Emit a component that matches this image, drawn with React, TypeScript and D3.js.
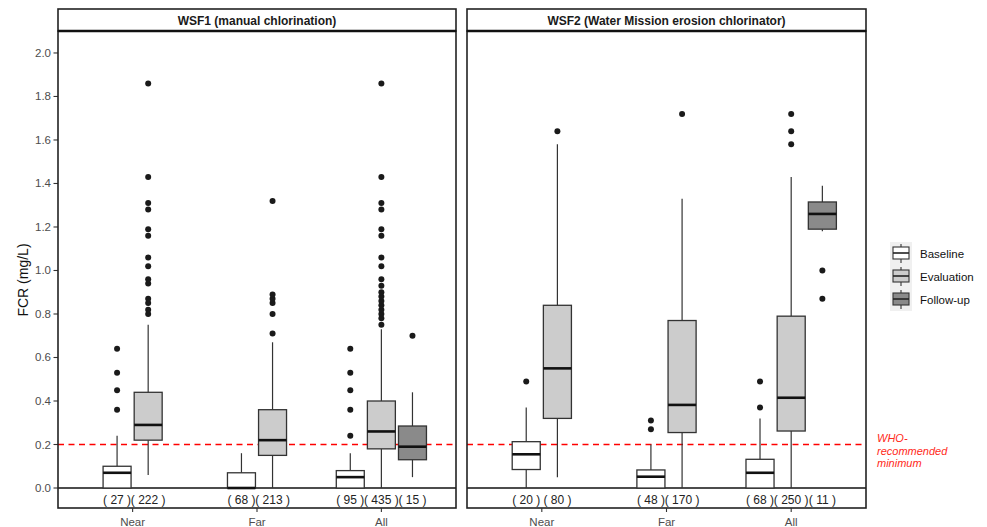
import React from "react";
import * as d3 from "d3";

// ---------- data ----------
const facets = ["WSF1 (manual chlorination)", "WSF2 (Water Mission erosion chlorinator)"];
const locations = ["Near", "Far", "All"];
const phases = ["Baseline", "Evaluation", "Follow-up"];
const phaseFill = ["#ffffff", "#cccccc", "#8a8a8a"];
const yTicks = [0, 0.2, 0.4, 0.6, 0.8, 1.0, 1.2, 1.4, 1.6, 1.8, 2.0];
const whoThreshold = 0.2;
const whoLabel = ["WHO-", "recommended", "minimum"];

const boxFacet = [0, 0, 0, 0, 0, 0, 0, 1, 1, 1, 1, 1, 1, 1];
const boxLocation = ["Near", "Near", "Far", "Far", "All", "All", "All", "Near", "Near", "Far", "Far", "All", "All", "All"];
const boxPhase = ["Baseline", "Evaluation", "Baseline", "Evaluation", "Baseline", "Evaluation", "Follow-up",
  "Baseline", "Evaluation", "Baseline", "Evaluation", "Baseline", "Evaluation", "Follow-up"];
const boxN = [27, 222, 68, 213, 95, 435, 15, 20, 80, 48, 170, 68, 250, 11];
const boxLow = [0, 0.06, 0, 0, 0, 0, 0.05, 0, 0.05, 0, 0, 0, 0, 1.18];
const boxQ1 = [0, 0.22, 0, 0.15, 0, 0.18, 0.13, 0.085, 0.32, 0, 0.255, 0, 0.262, 1.19];
const boxMedian = [0.07, 0.29, 0, 0.22, 0.05, 0.26, 0.19, 0.155, 0.55, 0.052, 0.382, 0.07, 0.415, 1.26];
const boxQ3 = [0.10, 0.44, 0.07, 0.36, 0.08, 0.40, 0.285, 0.213, 0.84, 0.083, 0.77, 0.132, 0.79, 1.315];
const boxHigh = [0.24, 0.75, 0.16, 0.67, 0.16, 0.73, 0.44, 0.37, 1.58, 0.20, 1.33, 0.32, 1.43, 1.39];
const boxOutliers = [
  [0.36, 0.45, 0.53, 0.64],
  [0.80, 0.82, 0.85, 0.87, 0.94, 0.96, 1.02, 1.06, 1.16, 1.19, 1.28, 1.31, 1.43, 1.86],
  [],
  [0.71, 0.80, 0.85, 0.87, 0.89, 1.32],
  [0.24, 0.36, 0.45, 0.53, 0.64],
  [0.75, 0.78, 0.80, 0.82, 0.84, 0.86, 0.88, 0.90, 0.93, 0.96, 1.02, 1.06, 1.16, 1.19, 1.28, 1.31, 1.43, 1.86],
  [0.70],
  [0.49],
  [1.64],
  [0.27, 0.31],
  [1.72],
  [0.37, 0.49],
  [1.58, 1.64, 1.72],
  [0.87, 1.0],
];

// ---------- layout ----------
const W = 987;
const H = 527;
const panelX: [number, number][] = [[58, 456], [467, 866]];
const stripTop = 9;
const panelTop = 31;
const panelBottom = 508;
const FONT = "'Liberation Sans', Arial, Helvetica, sans-serif";

const y = d3.scaleLinear().domain([-0.0919, 2.101]).range([panelBottom, panelTop]);

export default function App() {
  const panels = facets.map((name, fi) => {
    const [x0, x1] = panelX[fi];
    const x = d3.scaleLinear().domain([0.4, locations.length + 0.6]).range([x0, x1]);
    const idx = boxFacet.map((f, i) => (f === fi ? i : -1)).filter((i) => i >= 0);
    const slot = 0.25;
    const half = slot * 0.45;
    const boxes = idx.map((i) => {
      const li = locations.indexOf(boxLocation[i]);
      const group = idx.filter((j) => boxLocation[j] === boxLocation[i]);
      const k = group.length;
      const j = group.indexOf(i);
      const c = li + 1 + (j - (k - 1) / 2) * slot;
      return { i, cx: x(c), left: x(c - half), right: x(c + half), pi: phases.indexOf(boxPhase[i]) };
    });
    return (
      <g key={fi}>
        <rect x={x0} y={panelTop} width={x1 - x0} height={panelBottom - panelTop} fill="#fff" />
        <line x1={x0} x2={x1} y1={y(0)} y2={y(0)} stroke="#111" strokeWidth={1.3} />
        <line x1={x0} x2={x1} y1={y(whoThreshold)} y2={y(whoThreshold)} stroke="#ff0000" strokeWidth={1.3} strokeDasharray="6,4.5" />
        {boxes.map((b) => {
          const i = b.i;
          return (
            <g key={i}>
              {boxHigh[i] > boxQ3[i] && (
                <line x1={b.cx} x2={b.cx} y1={y(boxQ3[i])} y2={y(boxHigh[i])} stroke="#333" strokeWidth={1.2} />
              )}
              {boxLow[i] < boxQ1[i] && (
                <line x1={b.cx} x2={b.cx} y1={y(boxQ1[i])} y2={y(boxLow[i])} stroke="#333" strokeWidth={1.2} />
              )}
              <rect x={b.left} width={b.right - b.left} y={y(boxQ3[i])} height={y(boxQ1[i]) - y(boxQ3[i])}
                fill={phaseFill[b.pi]} stroke="#333" strokeWidth={1.3} />
              <line x1={b.left} x2={b.right} y1={y(boxMedian[i])} y2={y(boxMedian[i])} stroke="#111" strokeWidth={2.6} />
              {boxOutliers[i].map((v, oi) => (
                <circle key={oi} cx={b.cx} cy={y(v)} r={3} fill="#1a1a1a" />
              ))}
              <text x={b.cx} y={504} textAnchor="middle" fontSize={12} fill="#222" fontFamily={FONT}>
                {`( ${boxN[i]} )`}
              </text>
            </g>
          );
        })}
        <rect x={x0} y={panelTop} width={x1 - x0} height={panelBottom - panelTop} fill="none" stroke="#222" strokeWidth={1.6} />
        <rect x={x0} y={stripTop} width={x1 - x0} height={panelTop - stripTop} fill="#fff" stroke="#222" strokeWidth={1.6} />
        <line x1={x0} x2={x1} y1={panelTop} y2={panelTop} stroke="#111" strokeWidth={2.4} />
        <text x={(x0 + x1) / 2} y={24.5} textAnchor="middle" fontSize={12} fontWeight="bold" fill="#1a1a1a" fontFamily={FONT}>
          {name}
        </text>
        {locations.map((loc, li) => (
          <g key={loc}>
            <line x1={x(li + 1)} x2={x(li + 1)} y1={panelBottom} y2={panelBottom + 4} stroke="#333" strokeWidth={1.1} />
            <text x={x(li + 1)} y={525.5} textAnchor="middle" fontSize={11.5} fill="#4d4d4d" fontFamily={FONT}>
              {loc}
            </text>
          </g>
        ))}
      </g>
    );
  });

  return (
    <svg width={W} height={H} style={{ position: "absolute", left: 0, top: 0, background: "#fff" }}>
      <rect width={W} height={H} fill="#fff" />
      {yTicks.map((t) => (
        <g key={t}>
          <line x1={53.5} x2={58} y1={y(t)} y2={y(t)} stroke="#333" strokeWidth={1.1} />
          <text x={51} y={y(t) + 4} textAnchor="end" fontSize={11.5} fill="#4d4d4d" fontFamily={FONT}>
            {d3.format(".1f")(t)}
          </text>
        </g>
      ))}
      <text transform={`translate(28,${280}) rotate(-90)`} textAnchor="middle" fontSize={14} fill="#111" fontFamily={FONT}>
        FCR (mg/L)
      </text>
      {panels}
      {whoLabel.map((s, i) => (
        <text key={s} x={877} y={442 + i * 12.5} fontSize={11} fontStyle="italic" fill="#ff2a1a" fontFamily={FONT}>
          {s}
        </text>
      ))}
      {phases.map((p, i) => {
        const ky = 242 + i * 23;
        const cx = 901;
        return (
          <g key={p}>
            <rect x={890} y={ky} width={22} height={23} fill="#f0f0f0" />
            <line x1={cx} x2={cx} y1={ky + 2} y2={ky + 21} stroke="#333" strokeWidth={1.1} />
            <rect x={893} y={ky + 5} width={16} height={12} fill={phaseFill[i]} stroke="#333" strokeWidth={1.1} />
            <line x1={893} x2={909} y1={ky + 11} y2={ky + 11} stroke="#222" strokeWidth={1.6} />
            <text x={920} y={ky + 15.5} fontSize={11.5} fill="#111" fontFamily={FONT}>
              {p}
            </text>
          </g>
        );
      })}
    </svg>
  );
}
